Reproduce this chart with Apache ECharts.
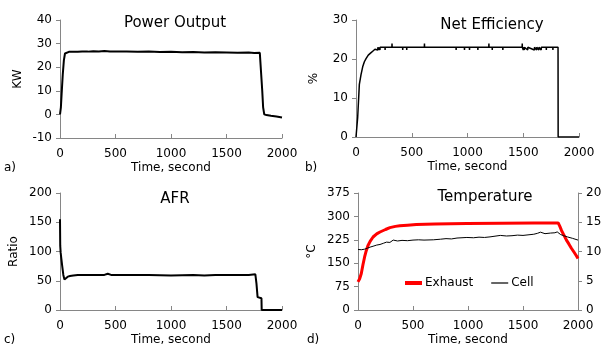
<!DOCTYPE html>
<html>
<head>
<meta charset="utf-8">
<script src="https://cdn.jsdelivr.net/npm/echarts@6/dist/echarts.min.js"></script>
<style>
html,body{margin:0;padding:0;background:#fff;}
#chart{width:606px;height:347px;}
</style>
</head>
<body>
<div id="chart"></div>
<script>
// ---- Data ----
var xTicks = [0, 500, 1000, 1500, 2000];

var powerTime = [0, 8, 15, 25, 35, 45, 60, 80, 120, 160, 200, 250, 300, 350, 400, 450, 500, 600, 700, 800, 900, 1000, 1100, 1200, 1300, 1400, 1500, 1600, 1700, 1750, 1800, 1815, 1822, 1830, 1840, 1860, 1900, 1950, 2000];
var power     = [0, 3, 9, 17, 23, 25.8, 26.3, 26.5, 26.6, 26.5, 26.7, 26.6, 26.8, 26.7, 26.9, 26.7, 26.6, 26.7, 26.5, 26.6, 26.4, 26.5, 26.3, 26.4, 26.2, 26.3, 26.2, 26.1, 26.2, 26.0, 26.1, 26.0, 10, 3, 0, -0.3, -0.6, -0.9, -1.3];

var effTime = [0, 15, 30, 45, 60, 75, 90, 110, 130, 150, 165, 170, 175, 185, 186, 195, 196, 205, 206, 215, 216, 225, 260, 261, 262, 322, 323, 324, 418, 419, 420, 454, 455, 456, 613, 614, 615, 897, 898, 899, 972, 973, 974, 1017, 1018, 1019, 1092, 1093, 1094, 1191, 1192, 1193, 1221, 1222, 1223, 1316, 1317, 1318, 1490, 1491, 1492, 1500, 1501, 1510, 1511, 1540, 1541, 1600, 1601, 1620, 1621, 1640, 1641, 1661, 1662, 1706, 1707, 1708, 1765, 1766, 1767, 1812, 1813, 2000];
var eff     = [0, 5, 13.5, 16, 18, 19.3, 20.1, 21, 21.5, 22, 22, 22.5, 23, 22.3, 23, 22.3, 23, 22.3, 23, 22.3, 23, 23, 23, 22.3, 23, 23, 24, 23, 23, 22.3, 23, 23, 22.3, 23, 23, 24, 23, 23, 22.3, 23, 23, 22.3, 23, 23, 22.3, 23, 23, 22.3, 23, 23, 24, 23, 23, 22.3, 23, 23, 22.3, 23, 23, 24, 23, 22.3, 23, 22.3, 23, 22.3, 23, 22.3, 23, 22.3, 23, 22.3, 23, 22.3, 23, 23, 22.3, 23, 23, 22.3, 23, 23, 0, 0];

var afrTime = [0, 2, 6, 12, 20, 30, 40, 45, 55, 70, 90, 120, 160, 200, 300, 400, 430, 460, 600, 800, 1000, 1200, 1300, 1400, 1600, 1700, 1760, 1770, 1780, 1790, 1815, 1817, 1900, 2000];
var afr     = [155, 110, 98, 88, 75, 60, 52, 50, 54, 57, 58, 59, 60, 60, 60, 60, 62, 60, 60, 60, 59, 60, 59, 60, 60, 60, 61, 45, 22, 20, 20, 0, 0, 0];

var tempTime = [0, 15, 30, 45, 60, 75, 90, 110, 137, 170, 200, 250, 290, 340, 380, 450, 530, 700, 990, 1300, 1600, 1820, 1835, 1850, 1872, 1895, 1918, 1940, 1963, 1985, 2000];
var exhaust  = [90, 100, 117, 145, 170, 190, 206, 220, 234, 244, 250, 258, 264, 268, 270, 272, 274, 276, 277, 278, 279, 279, 268, 255, 240, 224, 211, 198, 186, 174, 165];

var cellTime = [0, 30, 60, 90, 110, 137, 170, 200, 230, 259, 290, 320, 360, 400, 450, 500, 550, 600, 685, 750, 800, 850, 900, 990, 1050, 1100, 1150, 1200, 1294, 1350, 1400, 1450, 1500, 1598, 1630, 1659, 1700, 1750, 1790, 1811, 1842, 1870, 1903, 1950, 2000];
var cell     = [10.35, 10.3, 10.4, 10.6, 10.75, 10.9, 11.1, 11.2, 11.4, 11.6, 11.55, 11.95, 11.8, 11.9, 11.85, 11.95, 12.0, 11.95, 12.0, 12.1, 12.2, 12.15, 12.3, 12.4, 12.35, 12.45, 12.4, 12.5, 12.75, 12.65, 12.7, 12.8, 12.75, 12.95, 13.1, 13.3, 13.05, 13.15, 13.2, 13.35, 12.9, 12.7, 12.5, 12.25, 11.95];

var powerTicks = [-10, 0, 10, 20, 30, 40];
var effTicks = [0, 10, 20, 30];
var afrTicks = [0, 50, 100, 150, 200];
var tempTicks = [0, 75, 150, 225, 300, 375];
var cellTicks = [0, 5, 10, 15, 20];

// ---- Chart ----
function zip(a, b) { return a.map(function (v, i) { return [v, b[i]]; }); }
var FONT = 'DejaVu Sans';
var AX = '#868686';
function plain(v) { return String(v); }

function xAxis(gi) {
  return {
    type: 'value', gridIndex: gi, min: xTicks[0], max: xTicks[xTicks.length - 1],
    interval: xTicks[1] - xTicks[0],
    name: 'Time, second', nameLocation: 'middle', nameGap: 24,
    nameTextStyle: { color: '#000', fontSize: 12, fontFamily: FONT },
    axisLine: { show: true, onZero: false, lineStyle: { color: AX, width: 1 } },
    axisTick: { show: true, inside: true, length: 4, lineStyle: { color: AX } },
    axisLabel: { color: '#000', fontSize: 12, fontFamily: FONT, margin: 10, formatter: plain },
    splitLine: { show: false }
  };
}
function yAxis(gi, ticks, name, gap, pos) {
  return {
    type: 'value', gridIndex: gi, position: pos || 'left',
    min: ticks[0], max: ticks[ticks.length - 1], interval: ticks[1] - ticks[0],
    name: name, nameLocation: 'middle', nameGap: gap,
    nameTextStyle: { color: '#000', fontSize: 12, fontFamily: FONT },
    axisLine: { show: true, onZero: false, lineStyle: { color: AX, width: 1 } },
    axisTick: { show: true, inside: false, length: 4, lineStyle: { color: AX } },
    axisLabel: { color: '#000', fontSize: 12, fontFamily: FONT, margin: 8, formatter: plain },
    splitLine: { show: false }
  };
}
function line(name, xi, yi, data, color, width) {
  return {
    name: name, type: 'line', xAxisIndex: xi, yAxisIndex: yi, data: data,
    symbol: 'none', showSymbol: false, animation: false,
    lineStyle: { color: color, width: width }, itemStyle: { color: color }
  };
}

var chart = echarts.init(document.getElementById('chart'), null, { renderer: 'canvas' });
chart.setOption({
  animation: false,
  backgroundColor: '#fff',
  textStyle: { fontFamily: FONT },
  grid: [
    { left: 60, top: 20, width: 222, height: 118 },
    { left: 356, top: 20, width: 223, height: 117 },
    { left: 60, top: 193, width: 222, height: 119 },
    { left: 358, top: 193, width: 220, height: 117 }
  ],
  xAxis: [xAxis(0), xAxis(1), xAxis(2), xAxis(3)],
  yAxis: [
    yAxis(0, powerTicks, 'KW', 36),
    yAxis(1, effTicks, '%', 36),
    yAxis(2, afrTicks, 'Ratio', 40),
    yAxis(3, tempTicks, '°C', 40),
    yAxis(3, cellTicks, '', 8, 'right')
  ],
  legend: {
    left: 400, top: 272, itemWidth: 17, itemHeight: 10, itemGap: 18,
    textStyle: { color: '#000', fontSize: 12, fontFamily: FONT, padding: [0, 0, 0, -2] },
    data: [
      { name: 'Exhaust', icon: 'path://M0,0L17,0L17,4L0,4Z' },
      { name: 'Cell', icon: 'path://M0,0L17,0L17,1.2L0,1.2Z' }
    ]
  },
  graphic: [
    { type: 'text', style: { text: 'Power Output', x: 175, y: 23, textAlign: 'center', textVerticalAlign: 'middle', font: '15px "DejaVu Sans"', fill: '#000' } },
    { type: 'text', style: { text: 'Net Efficiency', x: 492, y: 25, textAlign: 'center', textVerticalAlign: 'middle', font: '15px "DejaVu Sans"', fill: '#000' } },
    { type: 'text', style: { text: 'AFR', x: 175, y: 199, textAlign: 'center', textVerticalAlign: 'middle', font: '15px "DejaVu Sans"', fill: '#000' } },
    { type: 'text', style: { text: 'Temperature', x: 485, y: 197, textAlign: 'center', textVerticalAlign: 'middle', font: '15px "DejaVu Sans"', fill: '#000' } },
    { type: 'text', style: { text: 'a)', x: 4, y: 168, textVerticalAlign: 'middle', font: '12px "DejaVu Sans"', fill: '#000' } },
    { type: 'text', style: { text: 'b)', x: 305, y: 168, textVerticalAlign: 'middle', font: '12px "DejaVu Sans"', fill: '#000' } },
    { type: 'text', style: { text: 'c)', x: 4, y: 340, textVerticalAlign: 'middle', font: '12px "DejaVu Sans"', fill: '#000' } },
    { type: 'text', style: { text: 'd)', x: 307, y: 340, textVerticalAlign: 'middle', font: '12px "DejaVu Sans"', fill: '#000' } }
  ],
  series: [
    line('Power', 0, 0, zip(powerTime, power), '#000', 2),
    line('Efficiency', 1, 1, zip(effTime, eff), '#000', 1.5),
    line('AFR', 2, 2, zip(afrTime, afr), '#000', 2),
    line('Exhaust', 3, 3, zip(tempTime, exhaust), '#ff0000', 3),
    line('Cell', 3, 4, zip(cellTime, cell), '#000', 1)
  ]
});
</script>
</body>
</html>
